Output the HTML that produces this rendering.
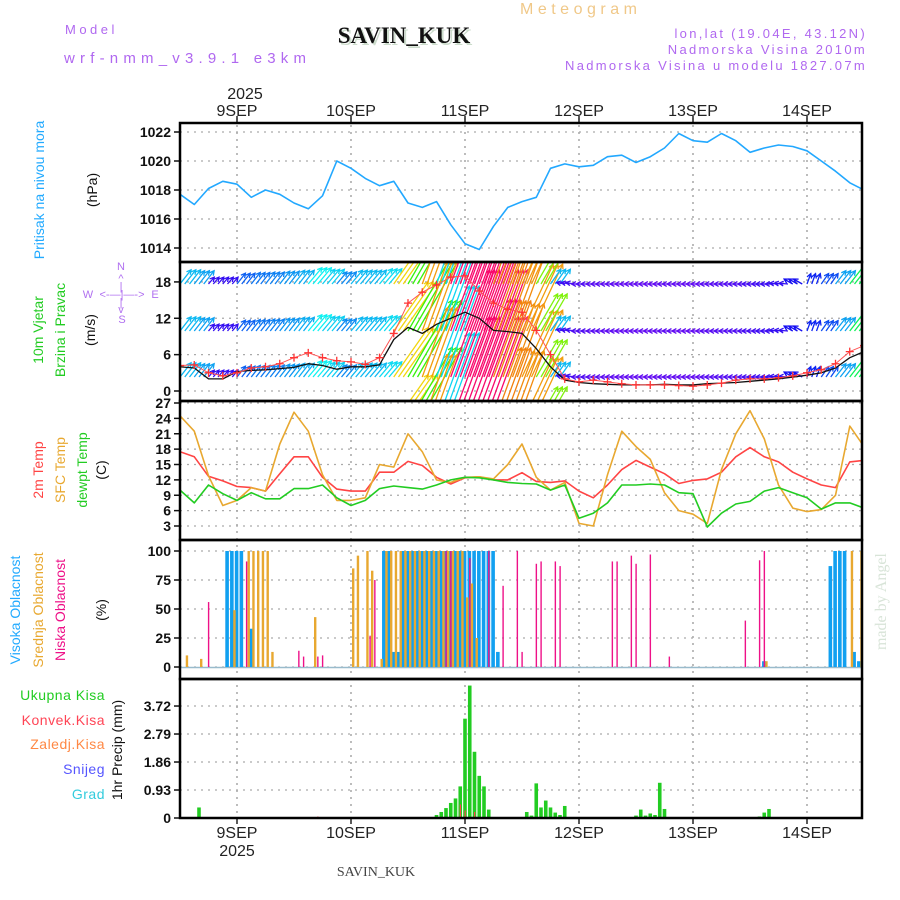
<!DOCTYPE html>
<html><head><meta charset="utf-8"><style>
body{margin:0;background:#fff}
svg{display:block;font-family:"Liberation Sans",sans-serif}
</style></head><body>
<svg id="chart" width="900" height="900" viewBox="0 0 900 900">
<defs>
<clipPath id="plotclip"><rect x="181" y="124" width="680" height="693"/></clipPath>
<clipPath id="windclip"><rect x="181" y="263" width="680" height="137"/></clipPath>
</defs>
<g>
<text x="65" y="34" font-size="13" fill="#b068f0" letter-spacing="3.5">Model</text>
<text x="64" y="63" font-size="15" fill="#b068f0" letter-spacing="5.2">wrf-nmm_v3.9.1 e3km</text>
<text x="520" y="14" font-size="16" fill="#f0c888" letter-spacing="4.5">Meteogram</text>
<text x="406" y="45" font-size="23" font-weight="bold" font-family="Liberation Serif,serif" fill="#ccdccc" text-anchor="middle">SAVIN_KUK</text>
<text x="404" y="43" font-size="23" font-weight="bold" font-family="Liberation Serif,serif" fill="#111" text-anchor="middle">SAVIN_KUK</text>
<text x="867" y="38" font-size="13" fill="#b068f0" text-anchor="end" letter-spacing="2.3">lon,lat (19.04E, 43.12N)</text>
<text x="867" y="54" font-size="13" fill="#b068f0" text-anchor="end" letter-spacing="2.3">Nadmorska Visina 2010m</text>
<text x="867" y="70" font-size="13" fill="#b068f0" text-anchor="end" letter-spacing="2.3">Nadmorska Visina u modelu 1827.07m</text>
<text x="245" y="99" font-size="16" fill="#222" text-anchor="middle">2025</text>
<text x="376" y="876" font-size="14" font-family="Liberation Serif,serif" fill="#444" text-anchor="middle">SAVIN_KUK</text>
<text transform="translate(886,650) rotate(-90)" font-size="16" font-family="Liberation Serif,serif" fill="#d8e4d8">made by Angel</text>
</g>
<g>
<text transform="translate(44,190) rotate(-90)" font-size="14" fill="#22aaff" text-anchor="middle">Pritisak na nivou mora</text>
<text transform="translate(97,190) rotate(-90)" font-size="14" fill="#111" text-anchor="middle">(hPa)</text>
<text transform="translate(43,330) rotate(-90)" font-size="14" fill="#22cc22" text-anchor="middle">10m Vjetar</text>
<text transform="translate(65,330) rotate(-90)" font-size="14" fill="#22cc22" text-anchor="middle">Brzina i Pravac</text>
<text transform="translate(95,330) rotate(-90)" font-size="14" fill="#111" text-anchor="middle">(m/s)</text>
<g fill="#b070f0" font-size="11" text-anchor="middle">
<text x="121" y="270">N</text><text x="121" y="282">^</text><text x="121" y="290">|</text>
<text x="88" y="298">W</text><text x="122" y="298">&lt;-—|—-&gt;</text><text x="155" y="298">E</text>
<text x="121" y="306">|</text><text x="121" y="313">v</text><text x="122" y="323">S</text>
</g>
<text transform="translate(43,470) rotate(-90)" font-size="14" fill="#ff4444" text-anchor="middle">2m Temp</text>
<text transform="translate(65,470) rotate(-90)" font-size="14" fill="#e8a830" text-anchor="middle">SFC Temp</text>
<text transform="translate(87,470) rotate(-90)" font-size="14" fill="#22cc22" text-anchor="middle">dewpt Temp</text>
<text transform="translate(106,470) rotate(-90)" font-size="14" fill="#111" text-anchor="middle">(C)</text>
<text transform="translate(20,610) rotate(-90)" font-size="14" fill="#22aaff" text-anchor="middle">Visoka Oblacnost</text>
<text transform="translate(43,610) rotate(-90)" font-size="14" fill="#e8a830" text-anchor="middle">Srednja Oblacnost</text>
<text transform="translate(65,610) rotate(-90)" font-size="14" fill="#ee1188" text-anchor="middle">Niska Oblacnost</text>
<text transform="translate(106,610) rotate(-90)" font-size="14" fill="#111" text-anchor="middle">(%)</text>
<g font-size="14" text-anchor="end" letter-spacing="0.5">
<text x="105" y="700" fill="#22cc22">Ukupna  Kisa</text>
<text x="105" y="725" fill="#ff4455">Konvek.Kisa</text>
<text x="105" y="749" fill="#ff8844">Zaledj.Kisa</text>
<text x="105" y="774" fill="#5555ff">Snijeg</text>
<text x="105" y="799" fill="#33ccdd">Grad</text>
</g>
<text transform="translate(122,750) rotate(-90)" font-size="14" fill="#111" text-anchor="middle">1hr Precip (mm)</text>
</g>
<g id="grid"></g>
<g id="marks" clip-path="url(#plotclip)"></g>
<g id="axes"></g>
</svg>
<script>
const NS='http://www.w3.org/2000/svg';
const dayLabels=['9SEP','10SEP','11SEP','12SEP','13SEP','14SEP'];
const dayHours=[12,36,60,84,108,132];
const hours3=[0,3,6,9,12,15,18,21,24,27,30,33,36,39,42,45,48,51,54,57,60,63,66,69,72,75,78,81,84,87,90,93,96,99,102,105,108,111,114,117,120,123,126,129,132,135,138,141,144];
const pressure=[1017.7,1017.0,1018.1,1018.6,1018.4,1017.5,1018.0,1017.7,1017.1,1016.7,1017.6,1020.0,1019.5,1018.8,1018.3,1018.6,1017.1,1016.8,1017.2,1015.6,1014.3,1013.9,1015.5,1016.8,1017.2,1017.5,1019.5,1019.8,1019.6,1019.7,1020.3,1020.4,1019.9,1020.3,1020.9,1021.9,1021.4,1021.3,1021.9,1021.4,1020.6,1020.9,1021.1,1021.0,1020.7,1020.0,1019.3,1018.5,1018.0];
const pressureTicks=[1014,1016,1018,1020,1022];
const windSpeed=[4.0,3.8,2.0,2.0,3.2,3.4,3.5,3.7,3.9,4.5,4.2,3.6,4.0,4.0,4.3,8.5,10.5,9.5,11,12,13,12,10,9.8,9.5,7,4,1.8,1.4,1.2,1.1,1.0,1.0,1.0,1.1,1.0,1.0,1.2,1.3,1.4,1.6,1.8,2.0,2.3,2.6,3.0,3.8,5.5,6.5];
const windGust=[4.2,4.3,3.0,2.5,3.0,3.8,4.0,4.5,5.5,6.3,5.5,5.0,4.8,4.4,5.5,9.5,14.5,16.3,17.5,18.8,19.0,16.5,14.5,13.5,13,10,6,2,1.5,1.8,1.5,1.2,1.0,1.0,1.0,0.9,0.8,1.0,1.3,1.8,2.0,2.0,2.2,2.5,3.0,3.5,4.5,6.5,7.5];
const windFrom=[218,218,220,220,218,218,218,218,218,220,220,220,220,220,220,215,210,200,200,200,200,200,200,200,205,210,215,100,90,90,90,90,90,90,90,90,90,90,90,90,90,90,95,120,200,215,218,218,218];
const windTicks=[0,6,12,18];
const temp2m=[17.5,16.5,12.7,11.8,10.7,10.5,9.8,13.2,16.5,16.5,12.5,10.2,9.8,9.8,13.5,13.5,15.6,14.8,12.5,11.2,12.4,12.6,12.0,12.0,13.4,11.7,11.5,11.8,9.8,8.5,11.0,14.0,15.8,14.5,13.2,11.3,11.9,12.2,13.5,16.5,18.3,16.5,15.5,13.5,12.2,11.0,10.5,15.5,15.8];
const tempSfc=[24.5,21.5,12.8,7.0,8.0,10.5,9.8,19,25.2,21.5,13,8.0,8.0,8.5,15,14.5,21,17.5,12,11.5,12.5,12.6,12.2,15.0,19.0,12.5,10,11.5,3.5,3.0,13,21.5,18.5,16,9.5,6,5.3,3.5,14,21,25.5,20,11,6.5,5.8,6.2,9,22.5,18.5];
const dewpt=[10,7.5,11,9.3,8,9.5,8.3,8.3,10.3,10.3,11,8.5,7.0,8,10.3,10.8,10.5,10.2,11,12,12.5,12.4,12,11.5,11.3,11.2,10,11,4.5,5.5,7.5,11,11,11.2,11,9.5,9.3,2.8,5.5,7.3,7.8,9.8,10.5,9.5,8.5,6.3,7.5,7.5,6.5];
const tempTicks=[3,6,9,12,15,18,21,24,27];
const highCloudHours=[10,11,12,13,15,43,44,45,46,47,48,49,50,51,52,53,54,55,56,57,58,59,60,61,62,63,64,65,66,67,123,137,138,139,140,142,143];
const highCloudVals=[100,100,100,100,33,100,100,13,13,100,100,100,100,100,100,100,100,100,100,100,100,100,100,100,100,100,100,100,100,13,5,87,100,100,100,13,5];
const midCloudHours=[1,4,11,14,15,16,17,18,19,28,36,37,39,40,42,43,44,45,46,47,48,49,50,51,52,53,54,55,56,57,58,59,60,61,62,123,141,143];
const midCloudVals=[10,7,49,100,100,100,100,100,13,43,85,96,100,83,7,100,100,100,100,100,100,100,100,100,100,100,100,100,100,100,100,100,60,72,25,5,100,100];
const lowCloudHours=[6,14,25,26,29,30,40,41,56,57,61,65,68,71,72,75,76,79,80,91,92,95,96,99,103,119,122,123];
const lowCloudVals=[56,91,14,9,9,10,27,75,100,100,94,100,70,100,13,89,91,91,87,91,91,96,89,97,9,40,92,100];
const cloudTicks=[0,25,50,75,100];
const precipHours=[4,54,55,56,57,58,59,60,61,62,63,64,65,66,73,74,75,76,77,78,79,80,81,96,97,98,99,100,101,102,122,123,124];
const precipVals=[0.35,0.1,0.2,0.33,0.5,0.65,1.05,3.3,4.4,2.2,1.4,1.05,0.28,0.03,0.2,0.08,1.15,0.35,0.58,0.35,0.18,0.1,0.4,0.08,0.28,0.08,0.15,0.1,1.17,0.3,0.05,0.18,0.3];
const convHours=[29,59,60,62];
const convVals=[0.05,0.45,0.25,0.2];
const precipTicks=[0,0.93,1.86,2.79,3.72];

const X0=180,X1=862,PXH=4.75;
const hx=h=>X0+h*PXH;
const yP=p=>132+(1022-p)*14.5;
const yW=s=>391-s*6.06;
const yT=t=>403+(27-t)*5.125;
const yC=v=>667-v*1.16;
const yR=v=>818-v*30.1;
const panels=[[123,262],[262,401],[401,540],[540,679],[679,818]];

const grid=document.getElementById('grid'),marks=document.getElementById('marks'),axes=document.getElementById('axes');
function el(tag,attrs,parent){const e=document.createElementNS(NS,tag);for(const k in attrs)e.setAttribute(k,attrs[k]);parent.appendChild(e);return e;}

dayHours.forEach((h,i)=>{
  const x=hx(h);
  const g=el('line',{x1:x,x2:x,y1:118,y2:818,stroke:'#999','stroke-dasharray':'2,5','stroke-width':1.3},grid);
  
  
  el('line',{x1:x,x2:x,y1:116,y2:123,stroke:'#222','stroke-width':1.5},axes);
  el('line',{x1:x,x2:x,y1:818,y2:824,stroke:'#222','stroke-width':1.5},axes);
  const t=el('text',{x:x,y:116,'font-size':16,'text-anchor':'middle',fill:'#222'},axes);
  t.textContent=dayLabels[i];
  
  
  const b=el('text',{x:x,y:838,'font-size':16,'text-anchor':'middle',fill:'#222'},axes);
  b.textContent=dayLabels[i];
  
  
});
const yr=el('text',{x:hx(12),y:856,'font-size':16,'text-anchor':'middle',fill:'#222'},axes);
yr.textContent='2025';



function yAxis(ticks,fy,fmt,name){
  ticks.forEach(v=>{
    const y=fy(v);
    const gl=el('line',{x1:X0,x2:X1,y1:y,y2:y,stroke:'#aaa','stroke-dasharray':'2,5','stroke-width':1.3},grid);
    
    
    el('line',{x1:X0-6,x2:X0,y1:y,y2:y,stroke:'#111','stroke-width':1.5},axes);
    const t=el('text',{x:X0-9,y:y+5,'font-size':14,'font-weight':'bold','text-anchor':'end',fill:'#111'},axes);
    t.textContent=fmt(v);
    
    
  });
}
yAxis(pressureTicks,yP,v=>v,'pressure');
yAxis(windTicks,yW,v=>v,'wind');
yAxis(tempTicks,yT,v=>v,'temp');
yAxis(cloudTicks,yC,v=>v,'cloud');
yAxis(precipTicks,yR,v=>v===0?'0':v.toFixed(2),'precip');

function line(vals,fy,color,name,w){
  const pts=vals.map((v,i)=>hx(hours3[i]).toFixed(1)+','+fy(v).toFixed(1)).join(' ');
  const p=el('polyline',{points:pts,fill:'none',stroke:color,'stroke-width':w||1.6,'stroke-linejoin':'round'},marks);
  
  
}
line(pressure,yP,'#22a8ff','pressure-line');

function windColor(s){
  const stops=[[0,275],[2,250],[3.5,210],[4.5,180],[6,120],[8,60],[10,30],[12,345]];
  if(s>=12)return 'hsl(335,95%,50%)';
  for(let i=1;i<stops.length;i++){if(s<=stops[i][0]){const a=stops[i-1],b=stops[i];const f=(s-a[0])/(b[0]-a[0]);return 'hsl('+(a[1]+(b[1]-a[1])*f)+',90%,50%)';}}
}
const wg=el('g',{'clip-path':'url(#windclip)'},marks);


const rows=[284,331,377,424];
windSpeed.forEach((s,i)=>{
  const b=(windFrom[i]+180)*Math.PI/180;
  const L=6+0.75*s*s;
  const dx=Math.sin(b)*L,dy=-Math.cos(b)*L;
  const c=windColor(s);
  [0,1,2].forEach(o=>{
    const x=hx(hours3[i])+o*PXH;
    if(x>X1+2)return;
    rows.forEach(yb=>{
      const a=el('line',{x1:x,y1:yb,x2:x+dx,y2:yb+dy,stroke:c,'stroke-width':1.3},wg);
      
      
      const ang=Math.atan2(dy,dx);
      const hx2=x+dx,hy2=yb+dy;
      el('polyline',{points:(hx2-5*Math.cos(ang-0.5))+','+(hy2-5*Math.sin(ang-0.5))+' '+hx2+','+hy2+' '+(hx2-5*Math.cos(ang+0.5))+','+(hy2-5*Math.sin(ang+0.5)),fill:'none',stroke:c,'stroke-width':1.3},wg);
    });
  });
});
line(windSpeed,yW,'#111','wind-speed-line',1.3);
line(windGust,yW,'#ff5555','wind-gust-line',1);
windGust.forEach((g,i)=>{
  const x=hx(hours3[i]),y=yW(g);
  const c=el('path',{d:'M'+(x-4)+' '+y+'h8M'+x+' '+(y-4)+'v8',stroke:'#ff3333','stroke-width':1.3},marks);
  
  
});

line(temp2m,yT,'#ff4444','temp-2m-line');
line(tempSfc,yT,'#e8a830','temp-sfc-line');
line(dewpt,yT,'#22cc22','dewpoint-line');

function bars(hrs,vals,fy,color,off,w,name){
  hrs.forEach((h,i)=>{
    const y=fy(vals[i]),y0=fy(0);
    const r=el('rect',{x:hx(h)+off,y:y,width:w,height:Math.max(0.5,y0-y),fill:color},marks);
    
    
  });
}
el('line',{x1:X0,x2:X1,y1:yC(0)+0.5,y2:yC(0)+0.5,stroke:'#99bbcc','stroke-width':1.5},marks);
bars(highCloudHours,highCloudVals,yC,'#11a0f0',-2.2,3.6,'high-cloud-bar');
bars(midCloudHours,midCloudVals,yC,'#e8a830',1.0,2.4,'mid-cloud-bar');
bars(lowCloudHours,lowCloudVals,yC,'#ee1188',-0.6,1.4,'low-cloud-bar');

bars(precipHours,precipVals,yR,'#22cc22',-1.8,3.6,'precip-bar');
bars(convHours,convVals,yR,'#ff4444',-0.5,1.2,'convective-bar');

panels.forEach((p,i)=>{
  const r=el('rect',{x:X0,y:p[0],width:X1-X0,height:p[1]-p[0],fill:'none',stroke:'#000','stroke-width':2.5},axes);
  
  
});
</script>
</body></html>
